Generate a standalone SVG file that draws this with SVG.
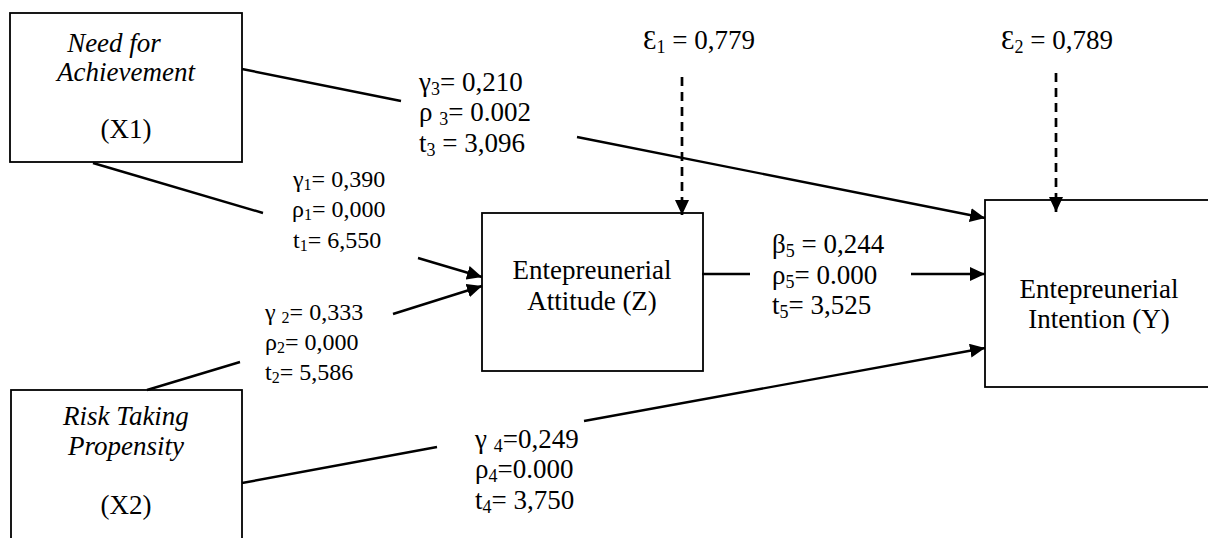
<svg xmlns="http://www.w3.org/2000/svg" width="1208" height="538" viewBox="0 0 1208 538">
<defs>
<style>
.box{fill:#fff;stroke:#000;stroke-width:1.8}
.t{font-family:"Liberation Serif","Times New Roman",serif;font-size:27px;fill:#000}
.it{font-style:italic}
.s{font-family:"Liberation Serif","Times New Roman",serif;font-size:24px;fill:#000}
.c{text-anchor:middle}
.ln{stroke:#000;stroke-width:2.4;fill:none}
.dash{stroke:#000;stroke-width:2.7;fill:none;stroke-dasharray:9 6}
</style>
<marker id="arr" markerWidth="15" markerHeight="14" refX="15" refY="7" orient="auto" markerUnits="userSpaceOnUse">
<path d="M0,0 L15,7 L0,14 z" fill="#000"/>
</marker>
</defs>
<rect width="1208" height="538" fill="#fff"/>

<g id="X1">
<rect class="box" x="10" y="13" width="232" height="149"/>
<text class="t it c" x="114" y="52">Need for</text>
<text class="t it c" x="126" y="81">Achievement</text>
<text class="t c" x="126" y="138">(X1)</text>
</g>

<g id="X2">
<rect class="box" x="11" y="390" width="231" height="160"/>
<text class="t it c" x="126" y="425">Risk Taking</text>
<text class="t it c" x="126" y="455">Propensity</text>
<text class="t c" x="126" y="514">(X2)</text>
</g>

<g id="Z">
<rect class="box" x="482" y="213" width="221" height="158"/>
<text class="t c" x="592" y="279">Entepreunerial</text>
<text class="t c" x="592" y="310">Attitude (Z)</text>
</g>

<g id="Y">
<rect class="box" x="985" y="200" width="230" height="187"/>
<text class="t c" x="1099" y="298">Entepreunerial</text>
<text class="t c" x="1099" y="328">Intention (Y)</text>
</g>

<g id="E1">
<text class="t" x="643" y="49">Ɛ<tspan font-size="18" dy="4">1</tspan><tspan dy="-4"> = 0,779</tspan></text>
</g>
<g id="E2">
<text class="t" x="1001" y="49">Ɛ<tspan font-size="18" dy="4">2</tspan><tspan dy="-4"> = 0,789</tspan></text>
</g>

<g id="connectors">
<line class="ln" x1="242" y1="69" x2="401" y2="101"/>
<line class="ln" x1="577" y1="137" x2="985" y2="218" marker-end="url(#arr)"/>
<line class="ln" x1="93" y1="163" x2="263" y2="213"/>
<line class="ln" x1="418" y1="258" x2="482" y2="277" marker-end="url(#arr)"/>
<line class="ln" x1="147" y1="390" x2="240" y2="362"/>
<line class="ln" x1="393" y1="314" x2="482" y2="286" marker-end="url(#arr)"/>
<line class="ln" x1="242" y1="483" x2="437" y2="447"/>
<line class="ln" x1="584" y1="421" x2="985" y2="348" marker-end="url(#arr)"/>
<line class="ln" x1="702" y1="274" x2="750" y2="274"/>
<line class="ln" x1="911" y1="274" x2="985" y2="274" marker-end="url(#arr)"/>
<line class="dash" x1="682" y1="77" x2="682" y2="215" marker-end="url(#arr)"/>
<line class="dash" x1="1056" y1="73" x2="1056" y2="212" marker-end="url(#arr)"/>
</g>

<g id="labels">
<text class="t" x="419" y="91">γ<tspan font-size="18" dy="4">3</tspan><tspan dy="-4">= 0,210</tspan></text>
<text class="t" x="419" y="121">ρ <tspan font-size="18" dy="4">3</tspan><tspan dy="-4">= 0.002</tspan></text>
<text class="t" x="419" y="152">t<tspan font-size="18" dy="4">3</tspan><tspan dy="-4"> = 3,096</tspan></text>

<text class="s" x="293" y="187">γ<tspan font-size="16" dy="3">1</tspan><tspan dy="-3">= 0,390</tspan></text>
<text class="s" x="292" y="217">ρ<tspan font-size="16" dy="3">1</tspan><tspan dy="-3">= 0,000</tspan></text>
<text class="s" x="293" y="248">t<tspan font-size="16" dy="3">1</tspan><tspan dy="-3">= 6,550</tspan></text>

<text class="s" x="265" y="320">γ <tspan font-size="16" dy="3">2</tspan><tspan dy="-3">= 0,333</tspan></text>
<text class="s" x="265" y="350">ρ<tspan font-size="16" dy="3">2</tspan><tspan dy="-3">= 0,000</tspan></text>
<text class="s" x="265" y="380">t<tspan font-size="16" dy="3">2</tspan><tspan dy="-3">= 5,586</tspan></text>

<text class="t" x="772" y="253">β<tspan font-size="18" dy="4">5</tspan><tspan dy="-4"> = 0,244</tspan></text>
<text class="t" x="772" y="284">ρ<tspan font-size="18" dy="4">5</tspan><tspan dy="-4">= 0.000</tspan></text>
<text class="t" x="772" y="314">t<tspan font-size="18" dy="4">5</tspan><tspan dy="-4">= 3,525</tspan></text>

<text class="t" x="475" y="448">γ <tspan font-size="18" dy="4">4</tspan><tspan dy="-4">=0,249</tspan></text>
<text class="t" x="475" y="478">ρ<tspan font-size="18" dy="4">4</tspan><tspan dy="-4">=0.000</tspan></text>
<text class="t" x="475" y="509">t<tspan font-size="18" dy="4">4</tspan><tspan dy="-4">= 3,750</tspan></text>
</g>
</svg>
